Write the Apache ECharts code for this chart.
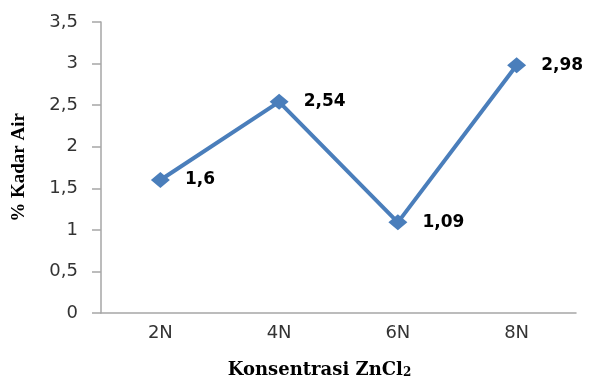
<!DOCTYPE html>
<html>
<head>
<meta charset="utf-8">
<script src="https://cdn.jsdelivr.net/npm/echarts@6/dist/echarts.min.js"></script>
<style>html,body{margin:0;padding:0;background:#fff}#c{width:590px;height:381px}</style>
</head>
<body>
<div id="c"></div>
<script>
var categories = ['2N', '4N', '6N', '8N'];
var kadarAir = [1.6, 2.54, 1.09, 2.98];
var yMin = 0, yMax = 3.5, yStep = 0.5;
var xTitle = 'Konsentrasi ZnCl{s|2}';
var yTitle = '% Kadar Air';

function comma(v) { return String(v).replace('.', ','); }

var chart = echarts.init(document.getElementById('c'));
chart.setOption({
  animation: false,
  backgroundColor: '#ffffff',
  grid: { left: 101, right: 14, top: 22, bottom: 68, containLabel: false, outerBoundsMode: 'none' },
  xAxis: {
    type: 'category',
    data: categories,
    boundaryGap: true,
    axisLine: { lineStyle: { color: '#a6a6a6', width: 1.5 } },
    axisTick: { show: false },
    axisLabel: { fontFamily: 'DejaVu Sans', fontSize: 18, color: '#333333', margin: 11 },
    name: xTitle,
    nameLocation: 'middle',
    nameGap: 48,
    nameTextStyle: {
      fontFamily: 'DejaVu Serif', fontWeight: 'bold', fontSize: 18, color: '#000000',
      padding: [0, 38, 0, 0],
      rich: { s: { fontFamily: 'DejaVu Serif', fontWeight: 'bold', fontSize: 12, color: '#000000', padding: [5, 0, 0, 0] } }
    }
  },
  yAxis: {
    type: 'value',
    min: yMin, max: yMax, interval: yStep,
    splitLine: { show: false },
    axisLine: { show: true, lineStyle: { color: '#a6a6a6', width: 1.5 } },
    axisTick: { show: true, length: 9, lineStyle: { color: '#a6a6a6', width: 1.5 } },
    axisLabel: { fontFamily: 'DejaVu Sans', fontSize: 18, color: '#333333', margin: 23, formatter: comma },
    name: yTitle,
    nameLocation: 'middle',
    nameGap: 72,
    nameTextStyle: { fontFamily: 'Liberation Serif', fontWeight: 'bold', fontSize: 19, color: '#000000' }
  },
  series: [{
    type: 'line',
    data: kadarAir,
    symbol: 'diamond',
    symbolSize: [19, 16],
    lineStyle: { color: '#4a7ebb', width: 4 },
    itemStyle: { color: '#4a7ebb' },
    label: {
      show: true, position: 'right', distance: 15,
      fontFamily: 'DejaVu Sans', fontWeight: 'bold', fontSize: 17, color: '#000000',
      formatter: function (p) { return comma(p.value); }
    }
  }]
});
</script>
</body>
</html>
